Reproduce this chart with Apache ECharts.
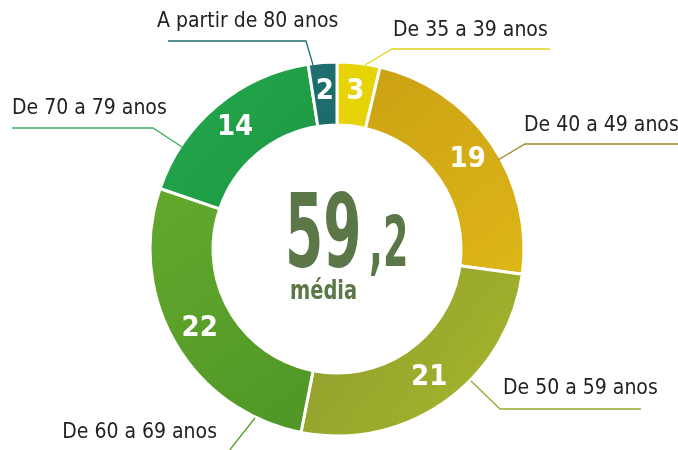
<!DOCTYPE html>
<html>
<head>
<meta charset="utf-8">
<script src="https://cdn.jsdelivr.net/npm/echarts@6/dist/echarts.min.js"></script>
<style>
  html, body { margin: 0; padding: 0; background: #fff; }
  #chart { width: 678px; height: 450px; }
</style>
</head>
<body>
<div id="chart"></div>
<script>
// faixas etarias e valores
const categories = ['De 35 a 39 anos', 'De 40 a 49 anos', 'De 50 a 59 anos', 'De 60 a 69 anos', 'De 70 a 79 anos', 'A partir de 80 anos'];
const values = [3, 19, 21, 22, 14, 2];
const media = ['59', ',2'];

const NARROW = "'DejaVu Sans Condensed', 'Liberation Sans Narrow', sans-serif";

// cores de cada fatia (inicio, fim do degrade) e cor da linha guia
const sliceColors = [
  ['#e8d506', '#e3d208'],
  ['#cba113', '#ddb617'],
  ['#8e9b2e', '#a8b72c'],
  ['#64a92d', '#4e9626'],
  ['#24a74d', '#1d9842'],
  ['#1f7070', '#1d6a6a']
];
const lineColors = ['#e2d51c', '#a38a2a', '#9aab2a', '#5aa02a', '#3cb060', '#1f6e6e'];

// posicao dos rotulos externos
const labelPos = [
  { pts: [[365, 65], [392, 49], [550, 49]], x: 393, y: 31, align: 'left' },
  { pts: [[498, 160], [525, 144], [678, 144]], x: 524, y: 126, align: 'left' },
  { pts: [[471, 381], [500, 409], [641, 409]], x: 503, y: 389, align: 'left' },
  { pts: [[255, 418], [232, 447], [226, 456]], x: 217, y: 433, align: 'right' },
  { pts: [[182, 147], [153, 128], [12, 128]], x: 12, y: 109, align: 'left' },
  { pts: [[313, 65], [306, 41], [168, 41]], x: 157, y: 22, align: 'left' }
];

const chart = echarts.init(document.getElementById('chart'));

const innerData = values.map((v, i) => ({
  name: categories[i],
  value: v,
  itemStyle: {
    color: new echarts.graphic.LinearGradient(0, 0, 1, 1, [
      { offset: 0, color: sliceColors[i][0] },
      { offset: 1, color: sliceColors[i][1] }
    ])
  }
}));

const outerData = values.map((v, i) => ({
  name: categories[i],
  value: v,
  labelLine: { lineStyle: { color: lineColors[i], width: 1.3 } }
}));

const option = {
  backgroundColor: '#fff',
  animation: false,
  series: [
    {
      type: 'pie',
      center: [337, 249],
      radius: [124, 187],
      startAngle: 90,
      clockwise: true,
      itemStyle: { borderColor: '#fff', borderWidth: 3 },
      label: {
        position: 'inside',
        formatter: '{c}',
        color: '#fff',
        fontSize: 29,
        fontWeight: 'bold',
        fontFamily: NARROW
      },
      labelLine: { show: false },
      data: innerData,
      z: 2
    },
    {
      type: 'pie',
      silent: true,
      center: [337, 249],
      radius: [124, 187],
      startAngle: 90,
      clockwise: true,
      itemStyle: { color: 'rgba(0,0,0,0)', borderWidth: 0 },
      label: {
        show: true,
        position: 'outside',
        formatter: '{b}',
        color: '#222',
        fontSize: 21,
        fontFamily: NARROW,
        overflow: 'none',
        width: 300
      },
      labelLine: { show: true },
      labelLayout: function (params) {
        const p = labelPos[params.dataIndex];
        return {
          x: p.x,
          y: p.y,
          align: p.align,
          verticalAlign: 'middle',
          labelLinePoints: p.pts
        };
      },
      data: outerData,
      z: 3
    }
  ],
  graphic: [
    {
      type: 'text',
      x: 285, y: 240,
      scaleX: 0.6,
      style: {
        text: media[0],
        fontSize: 102,
        fontWeight: 'bold',
        fontFamily: NARROW,
        fill: '#5c7747',
        align: 'left',
        verticalAlign: 'middle'
      }
    },
    {
      type: 'text',
      x: 369, y: 248,
      scaleX: 0.58,
      style: {
        text: media[1],
        fontSize: 70,
        fontWeight: 'bold',
        fontFamily: NARROW,
        fill: '#5c7747',
        align: 'left',
        verticalAlign: 'middle'
      }
    },
    {
      type: 'text',
      x: 290, y: 292,
      scaleX: 0.8,
      style: {
        text: 'média',
        fontSize: 27,
        fontWeight: 'bold',
        fontFamily: NARROW,
        fill: '#5c7747',
        align: 'left',
        verticalAlign: 'middle'
      }
    }
  ]
};

chart.setOption(option);
</script>
</body>
</html>
